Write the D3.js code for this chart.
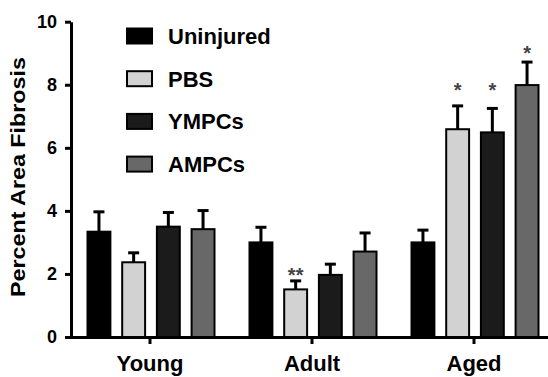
<!DOCTYPE html>
<html lang="en">
<head>
<meta charset="UTF-8">
<title>Percent Area Fibrosis</title>
<script src="https://d3js.org/d3.v7.min.js"></script>
<style>
  body { margin: 0; background: #fff; }
  text { font-family: "Liberation Sans", Arial, sans-serif; font-weight: bold; }
</style>
</head>
<body>
<div id="chart"></div>
<script>
// groups on the x axis and the four treatments
const groups = ["Young", "Adult", "Aged"];
const series = ["Uninjured", "PBS", "YMPCs", "AMPCs"];
const colors = ["#000000", "#d2d2d2", "#1b1b1b", "#686868"];

// mean values per treatment, in group order (Young, Adult, Aged)
const uninjured = [3.34, 3.00, 3.00];
const pbs       = [2.37, 1.51, 6.59];
const ympcs     = [3.50, 1.97, 6.49];
const ampcs     = [3.42, 2.71, 7.99];

// upper error (SEM)
const uninjuredErr = [0.63, 0.48, 0.39];
const pbsErr       = [0.30, 0.27, 0.74];
const ympcsErr     = [0.45, 0.34, 0.76];
const ampcsErr     = [0.59, 0.59, 0.73];

const yTicks = [0, 2, 4, 6, 8, 10];

// significance marks: group, series, label, value where the mark sits
const marks = [
  { group: "Adult", series: "PBS", label: "**", at: 2.1 },
  { group: "Aged", series: "PBS", label: "*", at: 7.95 },
  { group: "Aged", series: "YMPCs", label: "*", at: 7.95 },
  { group: "Aged", series: "AMPCs", label: "*", at: 9.12 }
];

const means = [uninjured, pbs, ympcs, ampcs];
const errs = [uninjuredErr, pbsErr, ympcsErr, ampcsErr];

const data = [];
groups.forEach((g, gi) => {
  series.forEach((s, si) => {
    data.push({ group: g, series: s, value: means[si][gi], err: errs[si][gi], color: colors[si] });
  });
});

const width = 548, height = 377;
const axisX = 71;

const svg = d3.select("#chart").append("svg")
  .attr("width", width)
  .attr("height", height);

const x0 = d3.scaleBand().domain(groups).range([69, 555]).padding(0);
const x1 = d3.scaleBand().domain(series).range([12.6, 151.4]).paddingInner(0.34).paddingOuter(0.17);
const y = d3.scaleLinear().domain([0, 10]).range([337, 21.7]);

// bars
const bar = svg.append("g").selectAll("g")
  .data(data)
  .join("g")
  .attr("transform", d => "translate(" + (x0(d.group) + x1(d.series)) + ",0)");

// error bars (upper only)
bar.append("line")
  .attr("x1", x1.bandwidth() / 2).attr("x2", x1.bandwidth() / 2)
  .attr("y1", d => y(d.value)).attr("y2", d => y(d.value + d.err))
  .attr("stroke", "#000").attr("stroke-width", 3);
bar.append("line")
  .attr("x1", x1.bandwidth() / 2 - 5.5).attr("x2", x1.bandwidth() / 2 + 5.5)
  .attr("y1", d => y(d.value + d.err)).attr("y2", d => y(d.value + d.err))
  .attr("stroke", "#000").attr("stroke-width", 3);

bar.append("rect")
  .attr("x", 0)
  .attr("y", d => y(d.value))
  .attr("width", x1.bandwidth())
  .attr("height", d => y(0) - y(d.value))
  .attr("fill", d => d.color)
  .attr("stroke", "#000")
  .attr("stroke-width", 2);

// significance stars
svg.append("g").selectAll("text")
  .data(marks)
  .join("text")
  .attr("x", d => x0(d.group) + x1(d.series) + x1.bandwidth() / 2)
  .attr("y", d => y(d.at) + 11)
  .attr("text-anchor", "middle")
  .attr("font-size", 20)
  .attr("font-weight", "normal")
  .attr("fill", "#444")
  .text(d => d.label);

// x axis
const xAxis = svg.append("g")
  .attr("transform", "translate(0,337)")
  .call(d3.axisBottom(x0).tickSize(7).tickSizeOuter(0).tickPadding(11.5));
xAxis.select(".domain").attr("stroke", "#000").attr("stroke-width", 3);
xAxis.selectAll(".tick line").attr("stroke", "#000").attr("stroke-width", 3);
xAxis.selectAll(".tick text")
  .attr("font-size", 22)
  .attr("fill", "#000")
  .attr("dy", "0.71em");

// y axis
const yAxis = svg.append("g")
  .attr("transform", "translate(" + axisX + ",0)")
  .call(d3.axisLeft(y).tickValues(yTicks).tickSize(6).tickSizeOuter(0).tickPadding(8));
yAxis.select(".domain").attr("stroke", "#000").attr("stroke-width", 3);
yAxis.selectAll(".tick line").attr("stroke", "#000").attr("stroke-width", 3);
yAxis.selectAll(".tick text")
  .attr("font-size", 18)
  .attr("fill", "#000");

// y axis label
svg.append("text")
  .attr("transform", "translate(25,177) rotate(-90)")
  .attr("text-anchor", "middle")
  .attr("font-size", 20)
  .attr("textLength", 240)
  .attr("lengthAdjust", "spacingAndGlyphs")
  .text("Percent Area Fibrosis");

// legend
const legend = svg.append("g").selectAll("g")
  .data(series)
  .join("g")
  .attr("transform", (d, i) => "translate(127," + (36 + i * 42.7) + ")");
legend.append("rect")
  .attr("x", 0).attr("y", -7.5)
  .attr("width", 25).attr("height", 15)
  .attr("fill", (d, i) => colors[i])
  .attr("stroke", "#000").attr("stroke-width", 2);
legend.append("text")
  .attr("x", 41).attr("y", 8)
  .attr("font-size", 22)
  .text(d => d);
</script>
</body>
</html>
